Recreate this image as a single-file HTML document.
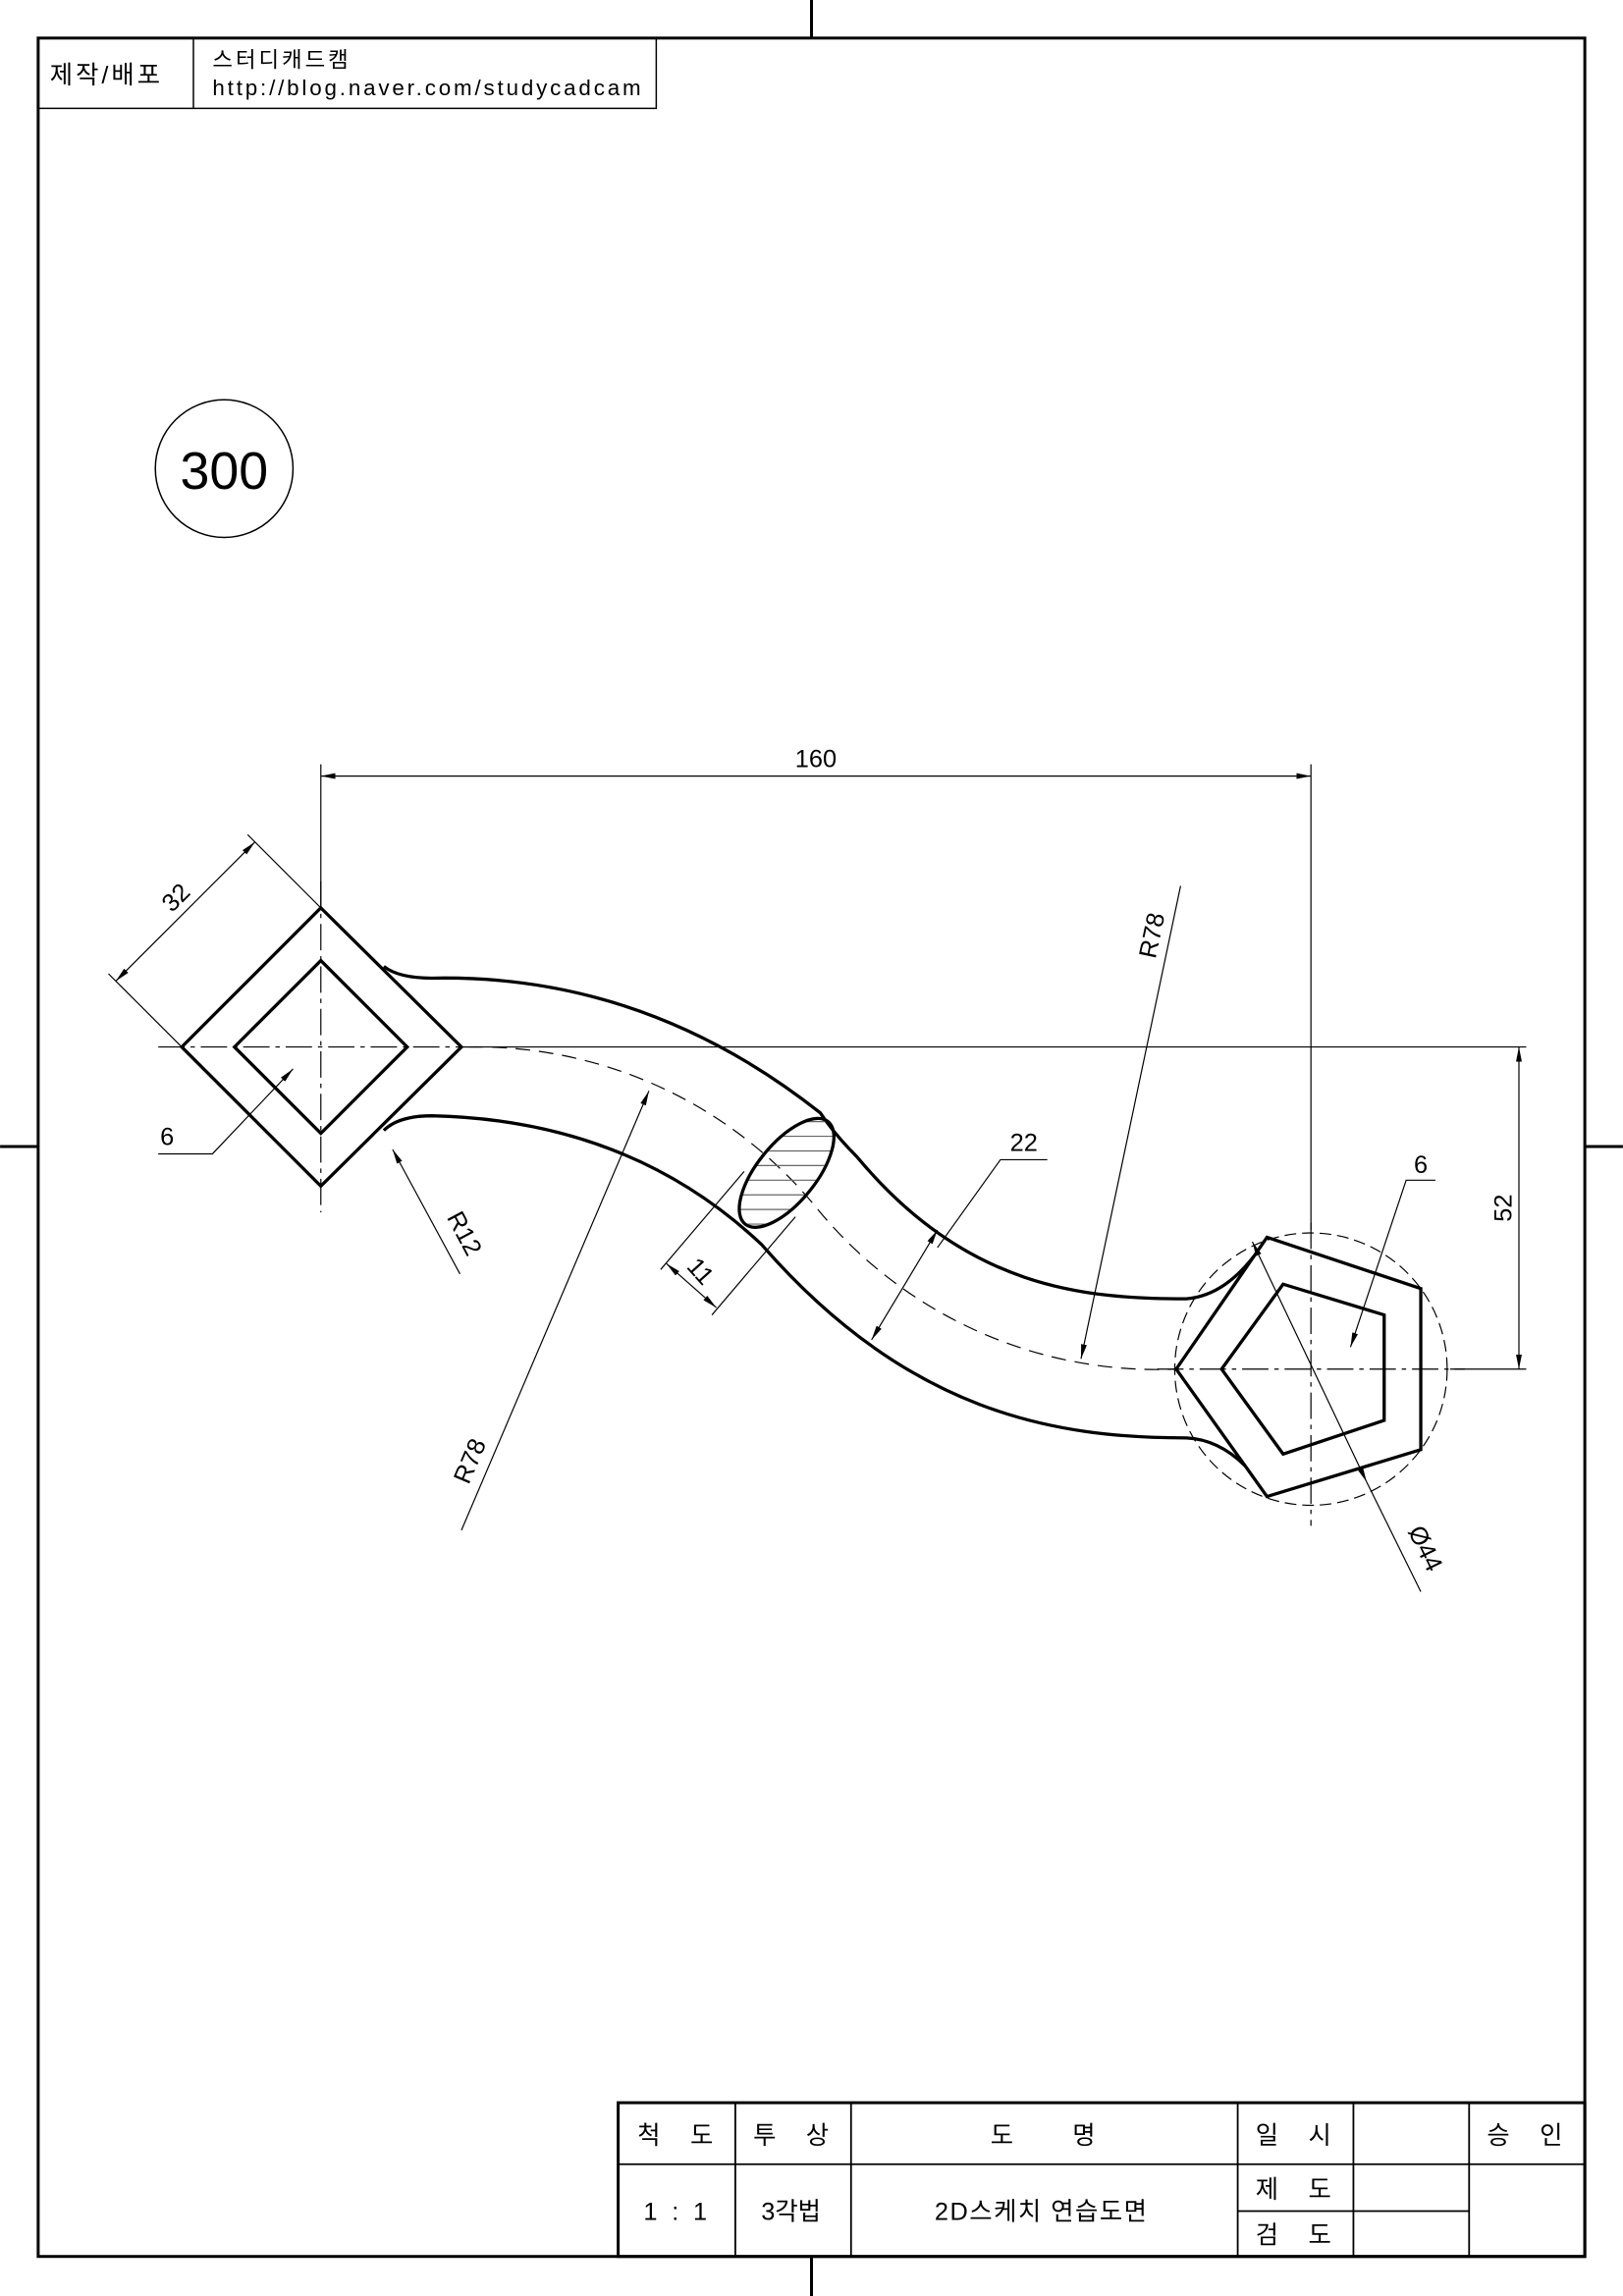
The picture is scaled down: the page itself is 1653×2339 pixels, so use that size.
<!DOCTYPE html>
<html><head><meta charset="utf-8"><style>
html,body{margin:0;padding:0;background:#fff;}
svg{display:block;}
text{font-family:"Liberation Sans","Noto Sans CJK KR",sans-serif;fill:#000;}
</style></head><body>
<svg width="1653" height="2339" viewBox="0 0 1108 1568" xmlns="http://www.w3.org/2000/svg">
<defs>
<marker id="a" viewBox="0 0 10 4" refX="10" refY="2" markerWidth="10" markerHeight="4" orient="auto-start-reverse" markerUnits="userSpaceOnUse"><path d="M0,0 L10,2 L0,4z" fill="#000"/></marker>
<clipPath id="ec"><ellipse cx="537" cy="801" rx="20" ry="45" transform="rotate(39 537 801)"/></clipPath>
</defs>
<g fill="none" stroke="#000">
<rect x="26" y="26" width="1056" height="1515" stroke-width="2"/>
<line x1="554" y1="0" x2="554" y2="26" stroke-width="2"/>
<line x1="554" y1="1541" x2="554" y2="1568" stroke-width="2"/>
<line x1="0" y1="783" x2="26" y2="783" stroke-width="2"/>
<line x1="1082" y1="783" x2="1108" y2="783" stroke-width="2"/>
<rect x="26" y="26" width="422" height="48" stroke-width="1"/>
<line x1="132" y1="26" x2="132" y2="74" stroke-width="1"/>
<circle cx="153" cy="320" r="47" stroke-width="1"/>

<g stroke-width="0.8" stroke-dasharray="18 4 3 4">
<line x1="108" y1="715" x2="330" y2="715"/>
<line x1="219" y1="602" x2="219" y2="828"/>
<line x1="790" y1="935" x2="1000" y2="935"/>
<line x1="895" y1="835" x2="895" y2="1042"/>
</g>
<path d="M320,715 A300,300 0 0 1 560,828 A300,300 0 0 0 803,935" stroke-width="0.8" stroke-dasharray="10 6"/>
<circle cx="895" cy="935" r="93" stroke-width="0.8" stroke-dasharray="8 4"/>

<path d="M219,620 L315,715 L219,810 L124,715Z" stroke-width="2.2"/>
<path d="M219,656 L278,715 L219,774 L160,715Z" stroke-width="2.2"/>
<path d="M803,935 L865,845 L970,880 L970,990 L865,1022Z" stroke-width="2.2"/>
<path d="M834,935 L876,877 L945,898 L945,970 L876,993Z" stroke-width="2.2"/>

<path d="M262,660 Q272,668 295,668 Q440,665 560,760 Q570,775 585,790 C660,880 740,887 810,887 Q835,885 856,858" stroke-width="2.2"/>
<path d="M262,772 Q272,762 295,762 Q430,765 520,850 C620,965 720,982 810,982 Q832,983 850,1001" stroke-width="2.2"/>
<g clip-path="url(#ec)" stroke-width="0.8" stroke="#666">
<line x1="490" y1="766" x2="590" y2="766"/><line x1="490" y1="776" x2="590" y2="776"/>
<line x1="490" y1="786" x2="590" y2="786"/><line x1="490" y1="796" x2="590" y2="796"/>
<line x1="490" y1="806" x2="590" y2="806"/><line x1="490" y1="816" x2="590" y2="816"/>
<line x1="490" y1="826" x2="590" y2="826"/><line x1="490" y1="836" x2="590" y2="836"/>
</g>
<ellipse cx="537" cy="801" rx="20" ry="45" transform="rotate(39 537 801)" stroke-width="2.2"/>

<g stroke-width="0.8">
<line x1="219" y1="522" x2="219" y2="620"/>
<line x1="895" y1="522" x2="895" y2="840"/>
<line x1="219" y1="530" x2="895" y2="530" marker-start="url(#a)" marker-end="url(#a)"/>
<line x1="315" y1="715" x2="1042" y2="715"/>
<line x1="990" y1="935" x2="1042" y2="935"/>
<line x1="1037" y1="715" x2="1037" y2="935" marker-start="url(#a)" marker-end="url(#a)"/>
<line x1="124" y1="715" x2="74" y2="665"/>
<line x1="219" y1="620" x2="169" y2="570"/>
<line x1="79" y1="670" x2="174" y2="575" marker-start="url(#a)" marker-end="url(#a)"/>
<polyline points="108,788 145,788 200,730" marker-end="url(#a)"/>
<line x1="314" y1="870" x2="268" y2="785" marker-end="url(#a)"/>
<line x1="806" y1="605" x2="738" y2="928" marker-end="url(#a)"/>
<line x1="315" y1="1045" x2="443" y2="745" marker-end="url(#a)"/>
<polyline points="715,792 683,792 640,852"/>
<line x1="640" y1="840" x2="595" y2="915" marker-start="url(#a)" marker-end="url(#a)"/>
<line x1="508" y1="800" x2="451" y2="867"/>
<line x1="543" y1="831" x2="486" y2="898"/>
<line x1="455" y1="863" x2="489" y2="893" marker-start="url(#a)" marker-end="url(#a)"/>
<polyline points="980,806 960,806 922,920" marker-end="url(#a)"/>
<line x1="855" y1="848" x2="933" y2="1012" marker-start="url(#a)" marker-end="url(#a)"/>
<line x1="933" y1="1012" x2="970" y2="1087"/>
</g>

<g stroke-width="1.2">
<rect x="422" y="1436" width="660" height="105" stroke-width="2"/>
<line x1="422" y1="1478" x2="1082" y2="1478"/>
<line x1="845" y1="1510" x2="1003" y2="1510"/>
<line x1="502" y1="1436" x2="502" y2="1541"/>
<line x1="581" y1="1436" x2="581" y2="1541"/>
<line x1="845" y1="1436" x2="845" y2="1541"/>
<line x1="924" y1="1436" x2="924" y2="1541"/>
<line x1="1003" y1="1436" x2="1003" y2="1541"/>
</g>
</g>

<text x="34" y="57" font-size="17" letter-spacing="2">제작/배포</text>
<text x="145" y="46" font-size="15" letter-spacing="2">스터디캐드캠</text>
<text x="145" y="65" font-size="15" letter-spacing="1.9">http://blog.naver.com/studycadcam</text>
<text x="153" y="334" font-size="36" text-anchor="middle">300</text>
<g font-size="17" text-anchor="middle">
<text x="557" y="524">160</text>
<text x="699" y="786">22</text>
<text x="970" y="801">6</text>
<text x="114" y="782">6</text>
<text transform="translate(1032,825) rotate(-90)">52</text>
<text transform="translate(124,617) rotate(-45)">32</text>
<text transform="translate(312,845) rotate(62)">R12</text>
<text transform="translate(792,640) rotate(-78)">R78</text>
<text transform="translate(326,1000) rotate(-67)">R78</text>
<text transform="translate(474,872) rotate(48)">11</text>
<text transform="translate(968,1060) rotate(64)">Ø44</text>
</g>
<g font-size="17" text-anchor="middle">
<text x="443" y="1464">척</text><text x="479" y="1464">도</text>
<text x="522" y="1464">투</text><text x="558" y="1464">상</text>
<text x="684" y="1464">도</text><text x="740" y="1464">명</text>
<text x="865" y="1464">일</text><text x="901" y="1464">시</text>
<text x="1023" y="1464">승</text><text x="1059" y="1464">인</text>
<text x="444" y="1516">1</text><text x="461" y="1516">:</text><text x="478" y="1516">1</text>
<text x="540" y="1516">3각법</text>
<text x="711" y="1516" letter-spacing="1">2D스케치 연습도면</text>
<text x="865" y="1501">제</text><text x="901" y="1501">도</text>
<text x="865" y="1532">검</text><text x="901" y="1532">도</text>
</g>
</svg>
</body></html>
